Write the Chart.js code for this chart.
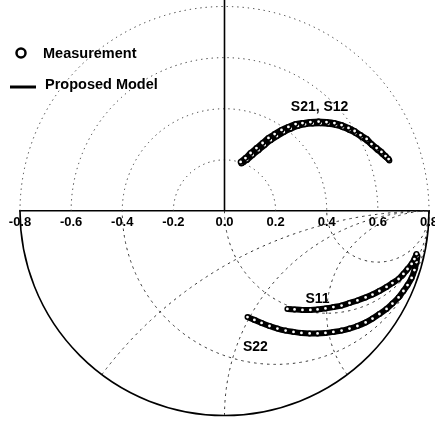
<!DOCTYPE html>
<html>
<head>
<meta charset="utf-8">
<script src="https://cdn.jsdelivr.net/npm/chart.js@4.4.1/dist/chart.umd.min.js"></script>
<style>
  html, body { margin: 0; padding: 0; background: #fff; }
  #wrap { width: 435px; height: 422px; }
</style>
</head>
<body>
<div id="wrap"><canvas id="myChart" width="435" height="422"></canvas></div>
<script>
// tick labels along the real axis
const tickValues = [-0.8, -0.6, -0.4, -0.2, 0.0, 0.2, 0.4, 0.6, 0.8];

// S21 / S12 (upper polar half)
const s21 = [
  [0.063, 0.192], [0.082, 0.207], [0.102, 0.227], [0.125, 0.246], [0.149, 0.266],
  [0.172, 0.286], [0.196, 0.301], [0.223, 0.317], [0.250, 0.329], [0.278, 0.340],
  [0.305, 0.344], [0.336, 0.348], [0.368, 0.350], [0.399, 0.348], [0.430, 0.344],
  [0.458, 0.336], [0.485, 0.325], [0.509, 0.313], [0.532, 0.297], [0.556, 0.282],
  [0.575, 0.262], [0.595, 0.246], [0.614, 0.231], [0.630, 0.215], [0.642, 0.203]
];
const s12 = [
  [0.066, 0.186], [0.088, 0.200], [0.110, 0.219], [0.133, 0.238], [0.157, 0.258],
  [0.181, 0.277], [0.205, 0.293], [0.232, 0.309], [0.259, 0.322], [0.287, 0.333],
  [0.315, 0.339], [0.345, 0.342], [0.376, 0.343], [0.406, 0.341], [0.436, 0.336],
  [0.463, 0.328], [0.489, 0.317], [0.513, 0.305], [0.536, 0.290], [0.558, 0.275],
  [0.578, 0.257], [0.598, 0.240], [0.617, 0.224], [0.633, 0.210], [0.645, 0.198]
];

// S11 / S22 (lower Smith half)
const s11 = [
  [0.246, -0.383], [0.274, -0.385], [0.305, -0.387], [0.336, -0.387], [0.364, -0.385],
  [0.395, -0.381], [0.426, -0.376], [0.458, -0.370], [0.489, -0.360], [0.520, -0.350],
  [0.552, -0.338], [0.579, -0.327], [0.606, -0.313], [0.634, -0.297], [0.657, -0.282],
  [0.681, -0.266], [0.700, -0.246], [0.716, -0.227], [0.732, -0.207], [0.743, -0.188],
  [0.751, -0.168]
];
const s22 = [
  [0.090, -0.415], [0.117, -0.426], [0.145, -0.438], [0.176, -0.450], [0.207, -0.460],
  [0.239, -0.468], [0.270, -0.473], [0.301, -0.477], [0.333, -0.479], [0.364, -0.479],
  [0.395, -0.477], [0.426, -0.473], [0.458, -0.468], [0.489, -0.460], [0.520, -0.450],
  [0.552, -0.436], [0.579, -0.421], [0.606, -0.403], [0.634, -0.383], [0.657, -0.362],
  [0.681, -0.338], [0.700, -0.313], [0.716, -0.290], [0.732, -0.262], [0.743, -0.231],
  [0.751, -0.200], [0.755, -0.176]
];

// grid: polar circles (upper), smith r-circles and x-arcs (lower)
const polarRadii = [0.2, 0.4, 0.6, 0.8];
const smithRadius = 0.8;
const smithR = [1 / 3, 1, 3];
const smithX = [0.5, 1, 2];

// curve labels
const curveLabels = [
  { text: 'S21, S12', x: 0.372, y: 0.407 },
  { text: 'S11', x: 0.364, y: -0.344 },
  { text: 'S22', x: 0.121, y: -0.532 }
];

const FONT = '"Liberation Sans", Arial, Helvetica, sans-serif';

function toXY(arr) {
  return arr.map((p) => ({ x: p[0], y: p[1] }));
}

function modelSet(arr) {
  return {
    type: 'line', data: toXY(arr), borderColor: '#000', borderWidth: 6,
    pointRadius: 0, tension: 0.3, fill: false, order: 2
  };
}

function measSet(arr) {
  return {
    type: 'scatter', data: toXY(arr), borderColor: '#000', backgroundColor: '#fff',
    borderWidth: 1.6, pointRadius: 2.2, order: 1
  };
}

const gridPlugin = {
  id: 'smithGrid',
  beforeDatasetsDraw(chart) {
    const ctx = chart.ctx;
    const xs = chart.scales.x, ys = chart.scales.y;
    const cx = xs.getPixelForValue(0), cy = ys.getPixelForValue(0);
    const k = xs.getPixelForValue(1) - cx;
    const R = smithRadius * k;
    ctx.save();

    // upper polar circles
    ctx.strokeStyle = '#333';
    ctx.lineWidth = 1;
    ctx.setLineDash([1.3, 4]);
    polarRadii.forEach((r) => {
      ctx.beginPath();
      ctx.arc(cx, cy, r * k, Math.PI, 2 * Math.PI);
      ctx.stroke();
    });

    // lower smith chart
    ctx.setLineDash([2.5, 4]);
    smithR.forEach((r) => {
      ctx.beginPath();
      ctx.arc(cx + R * r / (1 + r), cy, R / (1 + r), 0, Math.PI);
      ctx.stroke();
    });
    smithX.forEach((x) => {
      const ccx = cx + R, ccy = cy + R / x;
      const ix = cx + R * (x * x - 1) / (x * x + 1);
      const iy = cy + R * 2 * x / (x * x + 1);
      let a1 = Math.atan2(iy - ccy, ix - ccx);
      if (a1 < 0) a1 += 2 * Math.PI;
      ctx.beginPath();
      ctx.arc(ccx, ccy, R / x, a1, 1.5 * Math.PI);
      ctx.stroke();
    });

    // solid outline
    ctx.setLineDash([]);
    ctx.strokeStyle = '#000';
    ctx.lineWidth = 1.6;
    ctx.beginPath();
    ctx.arc(cx, cy, R, 0, Math.PI);
    ctx.stroke();
    ctx.beginPath();
    ctx.moveTo(cx, cy);
    ctx.lineTo(cx, chart.chartArea.top);
    ctx.stroke();
    ctx.restore();
  },
  afterDatasetsDraw(chart) {
    const ctx = chart.ctx;
    const xs = chart.scales.x, ys = chart.scales.y;
    const cy = ys.getPixelForValue(0);
    ctx.save();
    ctx.fillStyle = '#000';
    ctx.textAlign = 'center';
    ctx.textBaseline = 'middle';

    // axis tick labels
    ctx.font = 'bold 13px ' + FONT;
    tickValues.forEach((v) => {
      ctx.fillText(v.toFixed(1), xs.getPixelForValue(v), cy + 11);
    });

    ctx.font = 'bold 14px ' + FONT;
    curveLabels.forEach((l) => {
      ctx.fillText(l.text, xs.getPixelForValue(l.x), ys.getPixelForValue(l.y));
    });

    // legend
    ctx.textAlign = 'left';
    ctx.font = 'bold 14.5px ' + FONT;
    ctx.strokeStyle = '#000';
    ctx.lineWidth = 2.5;
    ctx.beginPath();
    ctx.arc(21, 53, 4.5, 0, 2 * Math.PI);
    ctx.stroke();
    ctx.fillText('Measurement', 43, 54);
    ctx.lineWidth = 3;
    ctx.beginPath();
    ctx.moveTo(10, 87);
    ctx.lineTo(36, 87);
    ctx.stroke();
    ctx.fillText('Proposed Model', 45, 85);
    ctx.restore();
  }
};

const yLim = 211 / 255.6;

const config = {
  type: 'scatter',
  data: {
    datasets: [
      modelSet(s21), modelSet(s12), modelSet(s11), modelSet(s22),
      measSet(s21), measSet(s12), measSet(s11), measSet(s22)
    ]
  },
  options: {
    responsive: false,
    animation: false,
    layout: { padding: { left: 20, right: 6, top: 0, bottom: 0 }, autoPadding: false },
    plugins: { legend: { display: false }, tooltip: { enabled: false } },
    scales: {
      x: {
        type: 'linear',
        position: { y: 0 },
        min: -0.8,
        max: 0.8,
        grid: { display: false },
        border: { display: true, color: '#000', width: 1.6 },
        afterFit: (scale) => {
          scale.paddingLeft = 0;
          scale.paddingRight = 0;
        },
        ticks: { display: false }
      },
      y: {
        type: 'linear',
        display: false,
        min: -yLim,
        max: yLim
      }
    }
  },
  plugins: [gridPlugin]
};

let ctx = document.getElementById('myChart').getContext('2d');
var myChart = new Chart(ctx, config);
</script>
</body>
</html>
